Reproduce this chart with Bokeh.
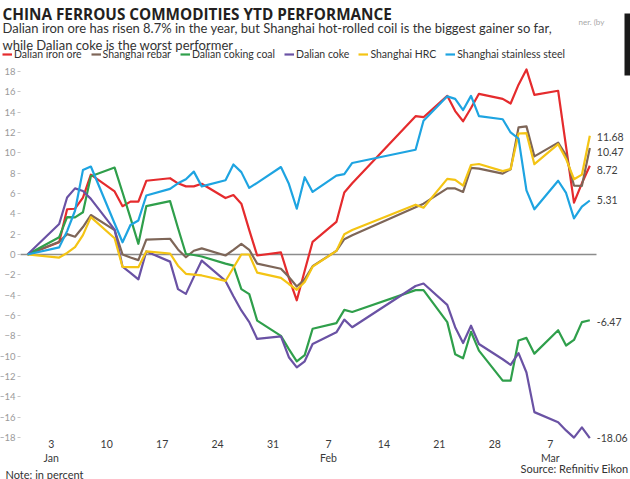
import pandas as pd
from bokeh.plotting import figure
from bokeh.models import (ColumnDataSource, Range1d, FixedTicker, CustomJSTickFormatter,
                          Label, Legend, LegendItem, BoxAnnotation)
from bokeh.core.properties import value
from bokeh.embed import file_html
from bokeh.resources import INLINE

# ---------------- data ----------------
dates = ["2020-12-31",
         "2021-01-04", "2021-01-05", "2021-01-06", "2021-01-07", "2021-01-08",
         "2021-01-11", "2021-01-12", "2021-01-13", "2021-01-14", "2021-01-15",
         "2021-01-18", "2021-01-19", "2021-01-20", "2021-01-21", "2021-01-22",
         "2021-01-25", "2021-01-26", "2021-01-27", "2021-01-28", "2021-01-29",
         "2021-02-01", "2021-02-02", "2021-02-03", "2021-02-04", "2021-02-05",
         "2021-02-08", "2021-02-09", "2021-02-10",
         "2021-02-18", "2021-02-19",
         "2021-02-22", "2021-02-23", "2021-02-24", "2021-02-25", "2021-02-26",
         "2021-03-01", "2021-03-02", "2021-03-03", "2021-03-04", "2021-03-05",
         "2021-03-08", "2021-03-09", "2021-03-10", "2021-03-11", "2021-03-12"]

iron_ore = [0, 1.2, 4.45, 4.5, 5.6, 7.85, 6.2, 4.75, 5.2, 5.2, 7.25,
            7.5, 7.0, 6.7, 6.7, 6.95, 5.55, 5.85, 5.0, 2.4, -0.1,
            0.2, -2.3, -4.5, -1.6, 1.25, 3.2, 6.1, 7.0, 13.6, 13.5,
            15.6, 14.1, 13.1, 14.4, 15.8, 15.3, 14.85, 16.7, 18.2, 15.7,
            16.1, 10.6, 5.1, 7.0, 8.72]
rebar = [0, 1.25, 2.0, 1.75, 2.7, 3.88, 2.4, 0.0, -0.3, -0.55, 1.47,
         1.55, 0.5, -0.27, 0.37, 0.6, -0.1, 0.46, 1.05, 0.46, -0.9,
         -1.4, -2.2, -3.15, -2.45, -1.15, 0.35, 1.5, 1.9, 4.65, 5.0,
         6.5, 6.5, 6.15, 8.52, 8.45, 7.95, 8.38, 12.5, 12.6, 9.65,
         11.0, 9.75, 6.78, 6.75, 10.47]
coking_coal = [0, 1.7, 3.67, 3.65, 4.15, 7.7, 8.55, 6.1, 3.6, 1.05, 4.75,
               5.25, 2.6, 0.05, -0.05, -0.2, -0.9, -1.1, -3.4, -3.9, -6.5,
               -8.0, -9.3, -10.5, -9.9, -7.3, -6.75, -5.45, -5.65, -3.5, -3.5,
               -6.65, -9.8, -10.2, -7.6, -9.45, -12.4, -12.4, -8.45, -8.2, -9.75,
               -7.45, -8.95, -8.4, -6.65, -6.47]
coke = [0, 3.0, 5.6, 6.5, 6.25, 5.47, 2.45, -1.2, -1.8, -2.45, 0.3,
        -0.7, -3.4, -3.87, -2.2, -0.6, -2.6, -4.1, -5.5, -6.65, -8.3,
        -8.05, -10.1, -11.1, -10.5, -8.8, -7.65, -6.4, -7.15, -3.1, -2.85,
        -4.95, -7.15, -8.7, -7.0, -8.8, -10.3, -10.85, -9.7, -11.6, -15.5,
        -16.5, -17.3, -18.0, -17.0, -18.06]
hrc = [0, -0.3, 0.15, 0.72, 1.9, 3.67, 1.6, -1.22, -1.25, -1.25, 0.3,
       0.1, -1.1, -1.9, -1.97, -2.06, -2.6, -1.3, 0.0, 0.0, -1.78,
       -2.3, -2.9, -3.47, -2.7, -1.2, 0.35, 2.0, 2.4, 4.9, 4.6,
       7.44, 7.34, 6.78, 8.8, 8.9, 8.2, 8.4, 11.9, 11.93, 8.88,
       10.85, 9.4, 7.4, 7.85, 11.68]
stainless = [0, 0.7, 2.3, 4.3, 8.3, 8.65, 3.05, 1.2, 2.9, 3.35, 5.8,
             6.45, 7.0, 7.4, 8.15, 6.7, 7.3, 8.85, 8.1, 6.55, 7.05,
             8.6, 6.95, 4.5, 7.6, 6.15, 7.75, 7.9, 9.0, 10.3, 13.15,
             15.55, 15.3, 14.2, 15.6, 13.6, 13.3, 12.0, 11.4, 6.3, 4.45,
             7.25, 6.05, 3.55, 4.7, 5.31]

series_names = ["Dalian iron ore", "Shanghai rebar", "Dalian coking coal",
                "Dalian coke", "Shanghai HRC", "Shanghai stainless steel"]
series_values = [iron_ore, rebar, coking_coal, coke, hrc, stainless]

tick_dates = ["2021-01-03", "2021-01-10", "2021-01-17", "2021-01-24", "2021-01-31",
              "2021-02-07", "2021-02-14", "2021-02-21", "2021-02-28", "2021-03-07"]
y_ticks = list(range(-18, 19, 2))

title_text = "CHINA FERROUS COMMODITIES YTD PERFORMANCE"
subtitle_1 = "Dalian iron ore has risen 8.7% in the year, but Shanghai hot-rolled coil is the biggest gainer so far,"
subtitle_2 = "while Dalian coke is the worst performer"
fragment_text = "ner. (by"
note_text = "Note: in percent"
source_text = "Source: Refinitiv Eikon"

# ---------------- style / layout ----------------
colors = ["#e52b2d", "#7e6658", "#2f9f4b", "#6a52a4", "#f4c414", "#1ea4e1"]
end_label_dy = [4.5, 4, 2, 0, 1.5, 0]
FONT = "Lato"
W, H = 630, 479
PX_PER_DAY = 7.92          # horizontal scale
X0_PX = 27.0               # pixel of first date
PX_PER_UNIT = 10.17        # vertical scale
ZERO_PX = 254.0            # pixel row of 0 %
AXIS_LEFT_PX = 20.0        # where the value axis sits
ZERO_LINE_END_PX = 596.0

MS_DAY = 86400000.0
def ms(s):
    return pd.Timestamp(s).value / 1e6

base = ms(dates[0])
def px_to_x(px):
    return base + (px - X0_PX) / PX_PER_DAY * MS_DAY

x_start, x_end = px_to_x(0), px_to_x(W)
y_end = ZERO_PX / PX_PER_UNIT
y_start = -(H - ZERO_PX) / PX_PER_UNIT

p = figure(width=W, height=H, x_axis_type="datetime",
           x_range=Range1d(x_start, x_end), y_range=Range1d(y_start, y_end),
           output_backend="svg", toolbar_location=None,
           min_border=0, min_border_left=0, min_border_right=0,
           min_border_top=0, min_border_bottom=0)
p.title.visible = False
p.outline_line_color = None
p.grid.visible = False
p.background_fill_color = "white"
p.border_fill_color = "white"

# value axis, pinned at its place inside the canvas
p.yaxis.fixed_location = px_to_x(AXIS_LEFT_PX)
p.yaxis.ticker = FixedTicker(ticks=y_ticks)
p.yaxis.axis_line_color = None
p.yaxis.major_tick_line_color = "#c8c8c8"
p.yaxis.major_tick_out = 3
p.yaxis.major_tick_in = 0
p.yaxis.minor_tick_line_color = None
p.yaxis.major_label_standoff = 2
p.yaxis.major_label_text_font = FONT
p.yaxis.major_label_text_font_size = "9.5px"
p.yaxis.major_label_text_color = "#9a9a9a"

# date axis, pinned at the bottom of the value scale
p.xaxis.fixed_location = y_ticks[0]
p.xaxis.ticker = FixedTicker(ticks=[ms(d) for d in tick_dates])
p.xaxis.formatter = CustomJSTickFormatter(code="""
const d = new Date(tick);
const months = ["Jan","Feb","Mar","Apr","May","Jun","Jul","Aug","Sep","Oct","Nov","Dec"];
const day = d.getUTCDate();
return day <= 7 ? day + "\\n" + months[d.getUTCMonth()] : String(day);
""")
p.xaxis.axis_line_color = None
p.xaxis.major_tick_line_color = None
p.xaxis.minor_tick_line_color = None
p.xaxis.major_tick_out = 0
p.xaxis.major_tick_in = 0
p.xaxis.major_label_standoff = 0
p.xaxis.major_label_text_font = FONT
p.xaxis.major_label_text_font_size = "10.5px"
p.xaxis.major_label_text_color = "#3a3a3a"

# zero line (from the value axis to just past the last date)
p.segment(x0=[px_to_x(AXIS_LEFT_PX)], x1=[px_to_x(ZERO_LINE_END_PX)], y0=[0], y1=[0],
          line_color="#8c8c8c", line_width=1.4)

x_dates = pd.to_datetime(dates)
items = []
for name, vals, col in zip(series_names, series_values, colors):
    src = ColumnDataSource(dict(x=x_dates, y=vals))
    r = p.line("x", "y", source=src, line_color=col, line_width=2.2, line_join="round")
    items.append(LegendItem(label=name, renderers=[r]))

# end labels
end_src = ColumnDataSource(dict(
    x=[x_dates[-1]] * len(series_values),
    y=[v[-1] for v in series_values],
    text=[f"{v[-1]:.2f}" for v in series_values],
    dy=end_label_dy))
p.text("x", "y", text="text", source=end_src, x_offset=7, y_offset="dy",
       text_font=value(FONT), text_font_size="10.5px", text_color="#404040",
       text_baseline="middle", text_align="left")

legend = Legend(items=items, orientation="horizontal", location=(2, H - 47 - 14),
                padding=0, margin=0, spacing=9, glyph_width=10, glyph_height=14,
                label_height=14, label_standoff=2,
                label_text_font=FONT, label_text_font_size="10.5px",
                label_text_color="#333333", background_fill_alpha=0,
                border_line_color=None)
p.add_layout(legend)

def screen_label(text, x, baseline_from_top, size, color, style="normal", font=FONT):
    p.add_layout(Label(x=x, y=H - baseline_from_top, x_units="screen", y_units="screen",
                       text=text, text_font=font, text_font_size=size, text_color=color,
                       text_font_style=style, text_baseline="alphabetic", text_align="left"))

screen_label(title_text, 2, 13.5, "15.3px", "#231f20", style="bold", font="Open Sans")
screen_label(subtitle_1, 2, 27.5, "13px", "#333333")
screen_label(subtitle_2, 2, 44.3, "13px", "#333333")
screen_label(fragment_text, 578, 21, "8px", "#a8a8a8")
screen_label(note_text, 5, 473.5, "11px", "#333333")
screen_label(source_text, 520, 468, "11px", "#333333")

# dark bar at the top-right edge of the source image
p.add_layout(BoxAnnotation(left=624, right=630, top=H - 13, bottom=H - 75,
                           left_units="screen", right_units="screen",
                           top_units="screen", bottom_units="screen",
                           fill_color="#1a1a1a", fill_alpha=1, line_color=None))

open("out.html", "w").write(file_html(p, INLINE))
